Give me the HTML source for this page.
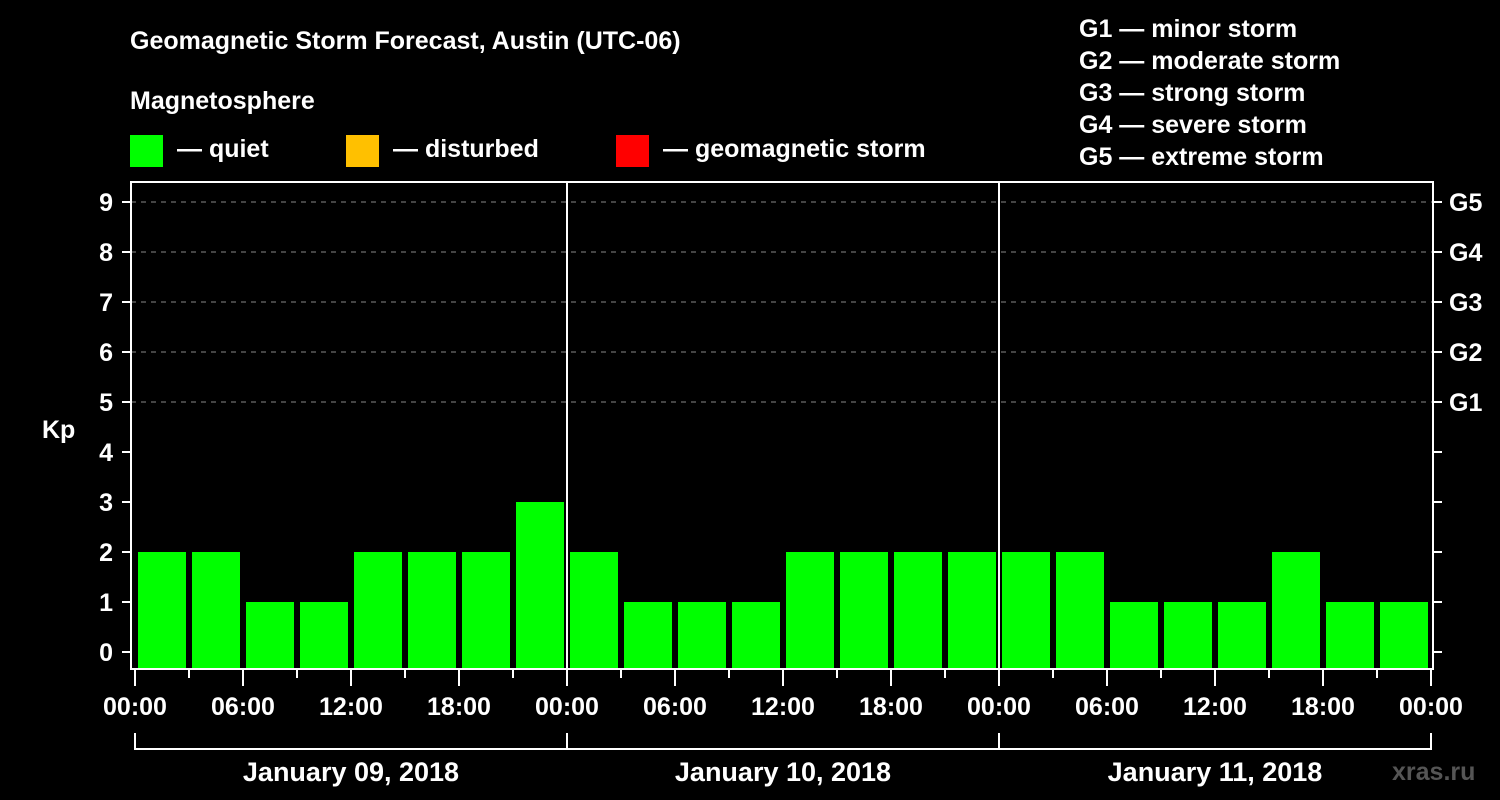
<!DOCTYPE html>
<html><head><meta charset="utf-8"><style>
body{margin:0;background:#000;width:1500px;height:800px;overflow:hidden}
svg{display:block;font-family:"Liberation Sans",Arial,sans-serif;font-weight:bold}
</style></head><body>
<svg id="c" width="1500" height="800" xmlns="http://www.w3.org/2000/svg">
<rect width="1500" height="800" fill="#000"/>
<text x="130" y="49" fill="#fff" font-size="25">Geomagnetic Storm Forecast, Austin (UTC-06)</text>
<text x="130" y="109" fill="#fff" font-size="25">Magnetosphere</text>
<rect x="130" y="135" width="33" height="32" fill="#00ff00"/>
<text x="177" y="157" fill="#fff" font-size="25">— quiet</text>
<rect x="346" y="135" width="33" height="32" fill="#ffc000"/>
<text x="393" y="157" fill="#fff" font-size="25">— disturbed</text>
<rect x="616" y="135" width="33" height="32" fill="#ff0000"/>
<text x="663" y="157" fill="#fff" font-size="25">— geomagnetic storm</text>
<g fill="#fff" font-size="25">
<text x="1079" y="37">G1 — minor storm</text>
<text x="1079" y="69">G2 — moderate storm</text>
<text x="1079" y="101">G3 — strong storm</text>
<text x="1079" y="133">G4 — severe storm</text>
<text x="1079" y="165">G5 — extreme storm</text>
</g>
<text x="42" y="438" fill="#fff" font-size="25">Kp</text>
<text x="1392" y="780" fill="#555" font-size="25">xras.ru</text>
<g id="plot"></g>
</svg>
<script>
const days = ["January 09, 2018","January 10, 2018","January 11, 2018"];
const kpValues = [2,2,1,1,2,2,2,3, 2,1,1,1,2,2,2,2, 2,2,1,1,1,2,1,1];
const yTicks = [0,1,2,3,4,5,6,7,8,9];
const gLabels = ["G1","G2","G3","G4","G5"];
const timeLabels = ["00:00","06:00","12:00","18:00"];
const NS="http://www.w3.org/2000/svg";
const g=document.getElementById('plot');
const X0=135, DAYW=432, L=131, R=1433, T=182, B=669;
const xPos=h=>X0+h*(DAYW/24);
const yPos=v=>652-50*v;
function el(t,a){const e=document.createElementNS(NS,t);for(const k in a)e.setAttribute(k,a[k]);g.appendChild(e);return e;}
// grid
for(let v=5;v<=9;v++){
  const e=el('line',{x1:L,x2:R,y1:yPos(v),y2:yPos(v),stroke:'#888','stroke-width':1,'stroke-dasharray':'5,5'});
  
  
}
// bars
kpValues.forEach((v,i)=>{
  const x=xPos(i*3)+3, w=xPos(3)-xPos(0)-6;
  const col=v>=5?'#ff0000':(v>=4?'#ffc000':'#00ff00');
  const e=el('rect',{x:x,y:yPos(v),width:w,height:668-yPos(v),fill:col});
  
  
});
// day separators
for(let d=1;d<days.length;d++){
  const e=el('line',{x1:xPos(d*24),x2:xPos(d*24),y1:T,y2:B,stroke:'#fff','stroke-width':2});
  
  
}
// frame
const fr=el('rect',{x:L,y:T,width:R-L,height:B-T,fill:'none',stroke:'#fff','stroke-width':2});


// y ticks
yTicks.forEach(v=>{
  const y=yPos(v);
  el('line',{x1:122,x2:L,y1:y,y2:y,stroke:'#fff','stroke-width':2});
  el('line',{x1:R,x2:R+9,y1:y,y2:y,stroke:'#fff','stroke-width':2});
  const t=el('text',{x:113,y:y+9,fill:'#fff','font-size':25,'text-anchor':'end'});
  t.textContent=v;
  
  
});
gLabels.forEach((s,i)=>{
  const t=el('text',{x:1449,y:yPos(5+i)+9,fill:'#fff','font-size':25});
  t.textContent=s;
  
  
});
// x ticks
for(let h=0;h<=days.length*24;h+=3){
  const x=xPos(h), major=h%6===0;
  el('line',{x1:x,x2:x,y1:B,y2:major?686:678,stroke:'#fff','stroke-width':2});
  if(major){
    const t=el('text',{x:x,y:715,fill:'#fff','font-size':25,'text-anchor':'middle'});
    t.textContent=timeLabels[(h/6)%4];
    
    
  }
}
// day brackets
days.forEach((d,i)=>{
  const a=xPos(i*24), b=xPos((i+1)*24);
  el('line',{x1:a,x2:a,y1:733,y2:750,stroke:'#fff','stroke-width':2});
  el('line',{x1:b,x2:b,y1:733,y2:750,stroke:'#fff','stroke-width':2});
  el('line',{x1:a,x2:b,y1:749,y2:749,stroke:'#fff','stroke-width':2});
  const t=el('text',{x:(a+b)/2,y:781,fill:'#fff','font-size':27,'text-anchor':'middle'});
  t.textContent=d;
  
  
});
</script>
</body></html>
